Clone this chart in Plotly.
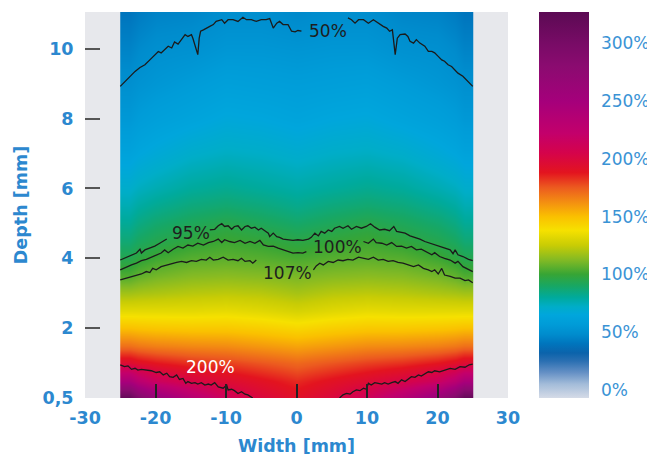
import plotly.graph_objects as go

# ---------------- data ----------------
widths = [-25, -20, -15, -10, -5, 0, 5, 10, 15, 20, 25]          # mm
depths = [0, 0.5, 1, 1.5, 2, 2.5, 3, 3.5, 4, 4.5, 5, 5.5, 6, 7, 8, 9, 10, 11]  # mm
dose = [  # % , one row per depth, one column per width
    [320, 265, 235, 212, 200, 192, 200, 212, 235, 265, 320],
    [245, 215, 203, 196, 190, 184, 190, 196, 203, 215, 245],
    [196, 188, 183, 180, 176, 172, 176, 180, 183, 188, 196],
    [170, 166, 164, 163, 160, 157, 160, 163, 164, 166, 170],
    [150, 148, 147, 147, 145, 142, 145, 147, 147, 148, 150],
    [133, 133, 133, 134, 132, 129, 132, 134, 133, 133, 133],
    [118, 120, 122, 123, 122, 119, 122, 123, 122, 120, 118],
    [104, 110, 113, 114, 113, 111, 113, 114, 113, 110, 104],
    [94, 101, 105, 106, 105, 103, 105, 106, 105, 101, 94],
    [87, 94, 98, 101, 99, 96, 99, 101, 98, 94, 87],
    [81, 88, 92, 95, 92, 89, 92, 95, 92, 88, 81],
    [76, 82, 86, 88, 86, 83, 86, 88, 86, 82, 76],
    [71, 76, 80, 82, 80, 78, 80, 82, 80, 76, 71],
    [62, 67, 71, 73, 72, 70, 72, 73, 71, 67, 62],
    [55, 60, 63, 66, 65, 63, 65, 66, 63, 60, 55],
    [50, 54, 57, 60, 59, 58, 59, 60, 57, 54, 50],
    [45, 50, 51, 54, 54, 53, 54, 54, 51, 50, 45],
    [40, 45, 46, 49, 49, 47, 49, 49, 46, 45, 40],
]

# iso-dose lines (width mm, depth mm)
c50a_x = [-25.0, -24.4, -23.6, -22.9, -22.2, -21.5, -20.8, -20.1, -19.6, -19.2, -18.7, -18.2, -17.7, -17.3, -16.8, -16.3, -15.8, -15.4, -14.9, -14.7, -14.3, -14.0, -13.8, -13.6, -13.2, -12.8, -12.3, -11.8, -11.4, -10.6, -10.2, -9.7, -9.0, -8.3, -7.6, -7.1, -6.4, -5.7, -5.0, -4.3, -3.8, -3.3, -2.8, -2.4, -1.9, -1.2, -0.7, -0.2, 0.2, 0.7]
c50a_y = [8.92, 9.04, 9.21, 9.35, 9.46, 9.54, 9.68, 9.83, 9.92, 9.88, 9.97, 10.07, 10.02, 10.19, 10.13, 10.26, 10.40, 10.35, 10.40, 10.30, 10.02, 9.83, 10.30, 10.50, 10.54, 10.59, 10.64, 10.69, 10.78, 10.83, 10.73, 10.83, 10.83, 10.78, 10.90, 10.83, 10.83, 10.78, 10.83, 10.83, 10.86, 10.59, 10.73, 10.78, 10.69, 10.69, 10.50, 10.48, 10.52, 10.50]
c50b_x = [7.3, 7.8, 8.3, 8.8, 9.5, 10.2, 10.9, 11.6, 12.3, 12.8, 13.2, 13.6, 13.8, 14.0, 14.3, 14.7, 15.4, 15.8, 16.1, 16.6, 17.0, 17.5, 18.2, 18.7, 19.2, 19.6, 20.1, 20.6, 21.0, 21.5, 22.0, 22.5, 22.9, 23.6, 24.4, 25.0]
c50b_y = [10.88, 10.83, 10.73, 10.83, 10.83, 10.73, 10.83, 10.73, 10.64, 10.59, 10.50, 10.54, 10.11, 9.83, 10.30, 10.40, 10.42, 10.35, 10.21, 10.16, 10.26, 10.16, 10.07, 9.92, 9.92, 9.88, 9.78, 9.68, 9.64, 9.54, 9.49, 9.40, 9.30, 9.21, 9.06, 8.92]

c95a_x = [-25.0, -24.1, -23.4, -22.7, -22.2, -22.0, -21.5, -20.8, -20.1, -19.4, -18.9, -18.4]
c95a_y = [3.95, 4.03, 4.07, 4.15, 4.26, 4.15, 4.24, 4.29, 4.35, 4.43, 4.48, 4.55]
c95b_x = [-12.3, -11.6, -11.1, -10.6, -10.2, -9.7, -9.2, -8.8, -8.3, -7.8, -7.3, -6.9, -6.4, -5.9, -5.4, -5.0, -4.5, -4.0, -3.8, -3.3, -2.8, -2.4, -1.9, -1.2, -0.5, 0.2, 0.9, 1.7, 2.1, 2.6, 3.1, 3.5, 4.0, 4.5, 5.0, 5.4, 6.1, 6.6, 7.3, 7.8, 8.5, 9.2, 9.9, 10.5, 11.1, 11.8, 12.5, 13.2, 13.8, 14.2, 14.7, 15.4, 16.1, 16.8, 17.5, 18.2, 18.9, 19.6, 20.3, 21.0, 21.8, 22.2, 22.5, 22.9, 23.6, 24.4, 25.0]
c95b_y = [4.81, 4.83, 4.93, 4.99, 4.91, 4.93, 4.83, 4.91, 4.93, 4.81, 4.91, 4.93, 4.86, 4.89, 4.81, 4.86, 4.79, 4.72, 4.62, 4.72, 4.62, 4.60, 4.55, 4.53, 4.51, 4.53, 4.51, 4.55, 4.60, 4.72, 4.64, 4.77, 4.72, 4.81, 4.77, 4.86, 4.91, 4.86, 4.93, 4.83, 4.91, 4.86, 4.91, 4.99, 4.89, 4.81, 4.83, 4.79, 4.91, 4.77, 4.74, 4.72, 4.64, 4.60, 4.55, 4.48, 4.43, 4.38, 4.34, 4.29, 4.24, 4.13, 4.24, 4.10, 4.05, 3.97, 3.93]

c100a_x = [-25.0, -24.1, -23.4, -22.7, -22.0, -21.3, -20.6, -19.9, -19.2, -18.7, -18.2, -17.5, -16.8, -16.1, -15.4, -14.7, -14.0, -13.2, -12.5, -11.8, -11.1, -10.6, -10.2, -9.5, -8.8, -8.0, -7.3, -6.6, -5.9, -5.2, -4.7, -4.0, -3.3, -2.6, -1.9, -1.2, -0.5, 0.2, 0.9, 1.4]
c100a_y = [3.67, 3.76, 3.81, 3.86, 3.93, 3.97, 4.03, 4.07, 4.15, 4.24, 4.16, 4.26, 4.34, 4.29, 4.38, 4.35, 4.43, 4.38, 4.45, 4.48, 4.55, 4.45, 4.53, 4.48, 4.45, 4.51, 4.43, 4.48, 4.43, 4.51, 4.38, 4.34, 4.35, 4.29, 4.24, 4.19, 4.15, 4.16, 4.15, 4.19]
c100b_x = [9.5, 10.2, 10.9, 11.3, 12.1, 12.8, 13.5, 14.2, 14.9, 15.6, 16.3, 17.0, 17.7, 18.4, 19.2, 19.6, 20.3, 21.0, 21.8, 22.5, 22.9, 23.6, 24.4, 25.0]
c100b_y = [4.48, 4.43, 4.55, 4.45, 4.43, 4.38, 4.45, 4.34, 4.35, 4.29, 4.34, 4.24, 4.26, 4.19, 4.10, 4.16, 4.05, 4.00, 3.95, 3.86, 3.91, 3.76, 3.67, 3.62]

c107a_x = [-25.0, -24.1, -23.4, -22.7, -22.0, -21.3, -20.8, -20.4, -19.9, -19.2, -18.4, -17.7, -17.0, -16.3, -15.6, -14.9, -14.2, -13.5, -12.8, -12.3, -11.8, -11.1, -10.4, -9.7, -9.0, -8.3, -7.8, -7.3, -6.6, -6.2, -5.7]
c107a_y = [3.38, 3.43, 3.48, 3.52, 3.55, 3.62, 3.59, 3.71, 3.67, 3.76, 3.81, 3.84, 3.88, 3.91, 3.88, 3.93, 3.91, 3.97, 3.95, 4.03, 3.95, 3.97, 4.03, 3.95, 3.97, 3.93, 4.00, 3.91, 3.93, 3.86, 3.95]
c107b_x = [2.4, 2.8, 3.3, 3.8, 4.5, 5.2, 5.9, 6.6, 7.3, 8.0, 8.8, 9.5, 10.2, 10.9, 11.6, 12.3, 13.0, 13.7, 14.4, 15.1, 15.8, 16.6, 17.3, 18.0, 18.7, 19.2, 19.6, 20.1, 20.6, 21.0, 21.8, 22.5, 23.2, 23.9, 24.4, 25.0]
c107b_y = [3.67, 3.78, 3.86, 3.81, 3.91, 3.88, 3.95, 3.93, 3.97, 3.95, 4.03, 4.00, 3.97, 4.03, 3.95, 3.97, 3.91, 3.93, 3.88, 3.86, 3.81, 3.76, 3.81, 3.71, 3.67, 3.62, 3.67, 3.55, 3.71, 3.52, 3.48, 3.43, 3.43, 3.36, 3.38, 3.30]

c200a_x = [-25.0, -24.4, -23.9, -23.4, -22.9, -22.5, -22.0, -21.3, -20.6, -19.9, -19.4, -18.9, -18.4, -18.0, -17.5, -17.0, -16.6, -16.1, -15.7, -15.4, -14.9, -14.4, -14.0, -13.5, -13.0, -12.5, -12.1, -11.6, -11.1, -10.4, -9.9, -9.7, -9.2, -8.8, -8.3, -7.8, -7.3, -6.9, -6.4, -6.2]
c200a_y = [0.95, 0.90, 0.92, 0.82, 0.85, 0.80, 0.82, 0.80, 0.78, 0.73, 0.75, 0.66, 0.71, 0.61, 0.59, 0.66, 0.53, 0.56, 0.42, 0.47, 0.42, 0.44, 0.40, 0.44, 0.37, 0.40, 0.37, 0.44, 0.32, 0.28, 0.37, 0.23, 0.25, 0.21, 0.13, 0.18, 0.11, 0.09, 0.04, 0.0]
c200b_x = [6.1, 6.6, 7.1, 7.6, 8.0, 8.5, 9.0, 9.5, 9.9, 10.2, 10.6, 11.1, 11.6, 12.1, 12.5, 13.0, 13.5, 14.0, 14.4, 14.9, 15.4, 15.8, 16.3, 16.8, 17.3, 17.7, 18.2, 18.7, 19.2, 19.6, 20.3, 21.0, 21.8, 22.5, 23.2, 23.9, 24.5, 25.0]
c200b_y = [0.0, 0.09, 0.13, 0.11, 0.18, 0.23, 0.21, 0.28, 0.25, 0.42, 0.37, 0.44, 0.42, 0.40, 0.44, 0.40, 0.44, 0.47, 0.42, 0.52, 0.47, 0.53, 0.61, 0.59, 0.66, 0.63, 0.69, 0.75, 0.73, 0.78, 0.75, 0.80, 0.85, 0.82, 0.90, 0.88, 0.95, 0.97]

contour_labels = ["50%", "95%", "100%", "107%", "200%"]
label_x = [4.4, -15.0, 5.8, -1.3, -12.2]
label_y = [10.52, 4.72, 4.31, 3.59, 0.90]

x_tick_vals = [-30, -20, -10, 0, 10, 20, 30]
x_tick_text = ["-30", "-20", "-10", "0", "10", "20", "30"]
x_tick_marks = [-20, -10, 0, 10, 20]
y_tick_vals = [0, 2, 4, 6, 8, 10]
y_tick_text = ["0,5", "2", "4", "6", "8", "10"]
y_tick_marks = [2, 4, 6, 8, 10]
cbar_vals = [0, 50, 100, 150, 200, 250, 300]
cbar_text = ["0%", "50%", "100%", "150%", "200%", "250%", "300%"]

# colour scale (dose %, colour)
scale_pct = [-7, 5, 15, 25, 32, 40, 48, 57, 65, 72, 80, 90, 100, 112, 125, 138, 150, 163, 175, 188, 205, 222, 250, 280, 300, 327]
scale_col = ["#d5dbe7", "#a3bcd9", "#6590c5", "#2a6fb2", "#0b63ab", "#0075bd", "#008ccd", "#009cd8",
             "#00a6dc", "#00adc8", "#00aa9c", "#18a763", "#37a535", "#80b925", "#c8cc05", "#f6e100",
             "#fac000", "#f38c12", "#ec5b1f", "#e3141f", "#d5034b", "#c3006b", "#a5007b", "#8b0b70",
             "#780b66", "#5b0a53"]

# ---------------- figure ----------------
zmin, zmax = scale_pct[0], scale_pct[-1]
colorscale = [[(v - zmin) / (zmax - zmin), c] for v, c in zip(scale_pct, scale_col)]
width_edges = [widths[0]] + [(a + b) / 2 for a, b in zip(widths, widths[1:])] + [widths[-1]]

BLUE = "#2c88cf"
FONT = "DejaVu Sans"

fig = go.Figure()
fig.add_trace(go.Heatmap(
    x=width_edges, y=depths, z=dose, zsmooth="best",
    colorscale=colorscale, zmin=zmin, zmax=zmax, hoverinfo="skip",
    colorbar=dict(
        thickness=50, thicknessmode="pixels", len=1, lenmode="fraction",
        x=1.073, xanchor="left", y=0.5, yanchor="middle", xpad=0, ypad=0,
        outlinewidth=0, tickmode="array", tickvals=cbar_vals, ticktext=cbar_text,
        ticks="outside", ticklen=9, tickcolor="rgba(0,0,0,0)",
        tickfont=dict(family=FONT, size=17, color="#3a93d5"),
    ),
))

pieces = [(c50a_x, c50a_y), (c50b_x, c50b_y), (c95a_x, c95a_y), (c95b_x, c95b_y),
          (c100a_x, c100a_y), (c100b_x, c100b_y), (c107a_x, c107a_y), (c107b_x, c107b_y),
          (c200a_x, c200a_y), (c200b_x, c200b_y)]
for px, py in pieces:
    fig.add_trace(go.Scatter(x=px, y=py, mode="lines", line=dict(color="#1b1b1b", width=1.3),
                             hoverinfo="skip", showlegend=False))

for t, lx, ly in zip(contour_labels, label_x, label_y):
    fig.add_annotation(x=lx, y=ly, text=t, showarrow=False, xref="x", yref="y",
                       font=dict(family=FONT, size=17, color="white" if t == "200%" else "#1e1e1e"))

axis_common = dict(showgrid=False, zeroline=False, showline=False, automargin=False,
                   tickfont=dict(family=FONT, size=17.5, color=BLUE, weight="bold"))

# the page body adds an 8 px offset, so the figure is 8 px smaller than the window
fig.update_layout(
    width=647, height=448,
    margin=dict(l=77, r=147, t=4, b=58, autoexpand=False),
    paper_bgcolor="white", plot_bgcolor="#e7e8ec",
    showlegend=False,
    xaxis=dict(range=[-30, 30], tickmode="array", tickvals=x_tick_vals, ticktext=x_tick_text,
               ticks="outside", ticklen=0, ticklabelstandoff=4,
               minor=dict(tickmode="array", tickvals=x_tick_marks, ticks="inside",
                          ticklen=14, tickwidth=1.5, tickcolor="#222222"),
               title=dict(text="Width [mm]", standoff=12,
                          font=dict(family=FONT, size=17.5, color=BLUE, weight="bold")),
               **axis_common),
    yaxis=dict(range=[0, 11.05], tickmode="array", tickvals=y_tick_vals, ticktext=y_tick_text,
               ticks="outside", ticklen=0, ticklabelstandoff=7,
               minor=dict(tickmode="array", tickvals=y_tick_marks, ticks="inside",
                          ticklen=15, tickwidth=2, tickcolor="#555555"),
               title=dict(text="Depth [mm]", standoff=10,
                          font=dict(family=FONT, size=17.5, color=BLUE, weight="bold")),
               **axis_common),
)

fig.write_html("out.html")
